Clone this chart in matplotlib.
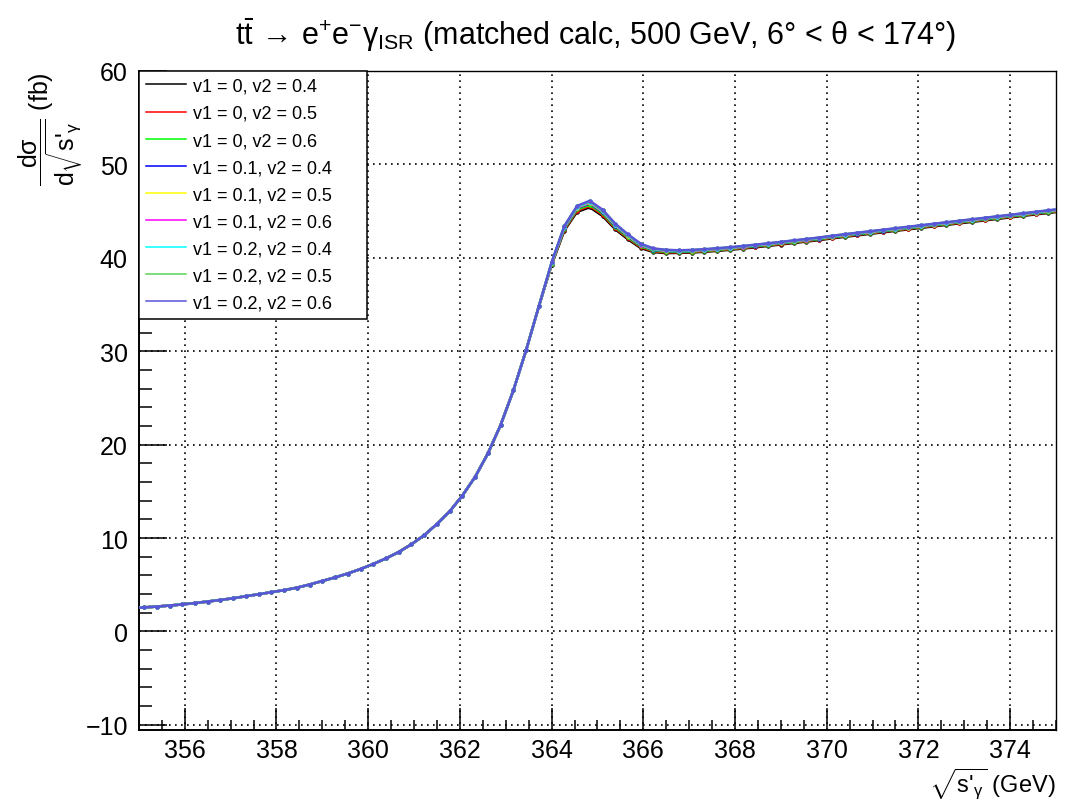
import numpy as np
import matplotlib
matplotlib.use("Agg")
import matplotlib.pyplot as plt
from matplotlib.lines import Line2D
from matplotlib.ticker import MultipleLocator

plt.rcParams['font.family'] = ['Liberation Sans', 'DejaVu Sans']
plt.rcParams['mathtext.fontset'] = 'custom'
plt.rcParams['mathtext.rm'] = 'Liberation Sans'
plt.rcParams['mathtext.it'] = 'Liberation Sans:italic'
plt.rcParams['mathtext.bf'] = 'Liberation Sans:bold'

# --- pontos em sqrt(s') (GeV), passo de 20/72 GeV
sqrt_s = np.linspace(354.8333, 375.1111, 74)

# --- parte comum a todas as curvas (355 - 363.7 GeV)
xsec_head = [2.48, 2.57, 2.66, 2.77, 2.89, 3.04, 3.20, 3.37, 3.55, 3.77,
             3.98, 4.20, 4.42, 4.68, 5.02, 5.40, 5.78, 6.20, 6.68, 7.22,
             7.82, 8.50, 9.33, 10.30, 11.50, 12.85, 14.55, 16.55, 19.05, 22.10,
             25.80, 30.10, 34.80]

# --- pico e cauda (364 - 375 GeV), uma lista por par (v1, v2)
xsec_v1_0_v2_04 = [39.22, 42.91, 44.92, 45.40, 44.48, 43.05, 41.97, 41.04, 40.61, 40.50,
                   40.52, 40.56, 40.64, 40.74, 40.85, 40.98, 41.12, 41.27, 41.42, 41.58,
                   41.73, 41.89, 42.07, 42.24, 42.40, 42.56, 42.72, 42.88, 43.04, 43.20,
                   43.36, 43.52, 43.68, 43.84, 44.00, 44.16, 44.32, 44.48, 44.64, 44.80,
                   44.96]
xsec_v1_0_v2_05 = [39.28, 43.01, 45.05, 45.54, 44.62, 43.17, 42.08, 41.14, 40.69, 40.57,
                   40.58, 40.62, 40.70, 40.80, 40.91, 41.04, 41.18, 41.33, 41.48, 41.64,
                   41.79, 41.95, 42.13, 42.30, 42.46, 42.62, 42.78, 42.94, 43.10, 43.26,
                   43.42, 43.58, 43.74, 43.90, 44.06, 44.22, 44.38, 44.54, 44.70, 44.86,
                   45.02]
xsec_v1_0_v2_06 = [39.33, 43.11, 45.17, 45.68, 44.75, 43.29, 42.18, 41.23, 40.77, 40.64,
                   40.63, 40.67, 40.75, 40.85, 40.96, 41.09, 41.23, 41.38, 41.53, 41.69,
                   41.84, 42.00, 42.18, 42.35, 42.51, 42.67, 42.83, 42.99, 43.15, 43.31,
                   43.47, 43.63, 43.79, 43.95, 44.11, 44.27, 44.43, 44.59, 44.75, 44.91,
                   45.07]
xsec_v1_01_v2_04 = [39.39, 43.20, 45.30, 45.82, 44.88, 43.41, 42.29, 41.32, 40.85, 40.71,
                    40.69, 40.73, 40.81, 40.91, 41.02, 41.15, 41.29, 41.44, 41.59, 41.75,
                    41.90, 42.06, 42.24, 42.41, 42.57, 42.73, 42.89, 43.05, 43.21, 43.37,
                    43.53, 43.69, 43.85, 44.01, 44.17, 44.33, 44.49, 44.65, 44.81, 44.97,
                    45.13]
xsec_v1_01_v2_05 = [39.42, 43.26, 45.37, 45.90, 44.96, 43.48, 42.35, 41.37, 40.89, 40.75,
                    40.72, 40.76, 40.84, 40.94, 41.05, 41.18, 41.32, 41.47, 41.62, 41.78,
                    41.93, 42.09, 42.27, 42.44, 42.60, 42.76, 42.92, 43.08, 43.24, 43.40,
                    43.56, 43.72, 43.88, 44.04, 44.20, 44.36, 44.52, 44.68, 44.84, 45.00,
                    45.16]
xsec_v1_01_v2_06 = [39.44, 43.30, 45.42, 45.96, 45.02, 43.53, 42.40, 41.41, 40.92, 40.78,
                    40.74, 40.78, 40.86, 40.96, 41.07, 41.20, 41.34, 41.49, 41.64, 41.80,
                    41.95, 42.11, 42.29, 42.46, 42.62, 42.78, 42.94, 43.10, 43.26, 43.42,
                    43.58, 43.74, 43.90, 44.06, 44.22, 44.38, 44.54, 44.70, 44.86, 45.02,
                    45.18]
xsec_v1_02_v2_04 = [39.46, 43.33, 45.46, 46.00, 45.05, 43.56, 42.42, 41.43, 40.94, 40.80,
                    40.76, 40.80, 40.88, 40.98, 41.09, 41.22, 41.36, 41.51, 41.66, 41.82,
                    41.97, 42.13, 42.31, 42.48, 42.64, 42.80, 42.96, 43.12, 43.28, 43.44,
                    43.60, 43.76, 43.92, 44.08, 44.24, 44.40, 44.56, 44.72, 44.88, 45.04,
                    45.20]
xsec_v1_02_v2_05 = [39.48, 43.37, 45.51, 46.05, 45.10, 43.61, 42.46, 41.47, 40.97, 40.83,
                    40.78, 40.82, 40.90, 41.00, 41.11, 41.24, 41.38, 41.53, 41.68, 41.84,
                    41.99, 42.15, 42.33, 42.50, 42.66, 42.82, 42.98, 43.14, 43.30, 43.46,
                    43.62, 43.78, 43.94, 44.10, 44.26, 44.42, 44.58, 44.74, 44.90, 45.06,
                    45.22]
xsec_v1_02_v2_06 = [39.50, 43.40, 45.55, 46.10, 45.15, 43.65, 42.50, 41.50, 41.00, 40.85,
                    40.80, 40.84, 40.92, 41.02, 41.13, 41.26, 41.40, 41.55, 41.70, 41.86,
                    42.01, 42.17, 42.35, 42.52, 42.68, 42.84, 43.00, 43.16, 43.32, 43.48,
                    43.64, 43.80, 43.96, 44.12, 44.28, 44.44, 44.60, 44.76, 44.92, 45.08,
                    45.24]

labels = ["v1 = 0, v2 = 0.4", "v1 = 0, v2 = 0.5", "v1 = 0, v2 = 0.6",
          "v1 = 0.1, v2 = 0.4", "v1 = 0.1, v2 = 0.5", "v1 = 0.1, v2 = 0.6",
          "v1 = 0.2, v2 = 0.4", "v1 = 0.2, v2 = 0.5", "v1 = 0.2, v2 = 0.6"]
tails = [xsec_v1_0_v2_04, xsec_v1_0_v2_05, xsec_v1_0_v2_06,
         xsec_v1_01_v2_04, xsec_v1_01_v2_05, xsec_v1_01_v2_06,
         xsec_v1_02_v2_04, xsec_v1_02_v2_05, xsec_v1_02_v2_06]
colors = ["#000000", "#ff0000", "#00ff00", "#0000ff", "#ffff00",
          "#ff00ff", "#00ffff", "#59d454", "#5954d8"]

fig = plt.figure(figsize=(10.83, 8.03), dpi=100)
ax = fig.add_axes([0.1283, 0.0897, 0.8467, 0.8207])

handles = []
for lab, tail, c in zip(labels, tails, colors):
    y = np.concatenate([xsec_head, tail])
    ax.plot(sqrt_s, y, color=c, lw=1.8, marker="o", ms=3.2, mew=0, zorder=3)
    handles.append(Line2D([], [], color=c, lw=1.1, label=lab))

ax.set_xlim(355, 375)
ax.set_ylim(-10.55, 60)
ax.xaxis.set_major_locator(MultipleLocator(2))
ax.xaxis.set_minor_locator(MultipleLocator(0.5))
ax.yaxis.set_major_locator(MultipleLocator(10))
ax.yaxis.set_minor_locator(MultipleLocator(2))
ax.tick_params(axis="x", which="major", direction="in", length=16, width=1.1,
               labelsize=18, pad=6)
ax.tick_params(axis="x", which="minor", direction="in", length=7.5, width=1.1)
ax.tick_params(axis="y", which="major", direction="in", length=20, width=1.1,
               labelsize=18, pad=8)
ax.tick_params(axis="y", which="minor", direction="in", length=9.5, width=1.1)
for s in ax.spines.values():
    s.set_linewidth(1.4)
ax.spines["top"].set_linewidth(1.0)
ax.spines["right"].set_linewidth(1.0)
ax.grid(True, which="major", color="black", linestyle=(0, (1, 2.6)), linewidth=1.2)
ax.set_axisbelow(True)

leg = ax.legend(handles=handles, loc="upper left",
                bbox_to_anchor=(0, 0, 228 / 917, 1), mode="expand",
                borderaxespad=0, fontsize=13, handlelength=2.2,
                handletextpad=0.44, labelspacing=0.56, borderpad=0.38,
                fancybox=False, framealpha=1, edgecolor="black")
leg.get_frame().set_linewidth(1.1)
leg.set_zorder(5)

fig.text(0.5499, 0.944,
         r"t$\mathrm{\bar{t}}\,\rightarrow\,$e$^{+}$e$^{-}\mathrm{\gamma}_{\mathrm{ISR}}$ (matched calc, 500 GeV, 6° < θ < 174°)",
         ha="center", va="baseline", fontsize=22)

ax.text(-0.096, 1.0,
        r"$\dfrac{\mathrm{d\sigma}}{\mathrm{d}\sqrt{\text{s'}_{\mathrm{\gamma}}}}$ (fb)",
        transform=ax.transAxes, rotation=90, ha="center", va="top", fontsize=18)
ax.text(1.0, -0.093, r"$\sqrt{\text{s'}_{\mathrm{\gamma}}}$ (GeV)",
        transform=ax.transAxes, ha="right", va="baseline", fontsize=17)

fig.savefig("out.png", dpi=100)
